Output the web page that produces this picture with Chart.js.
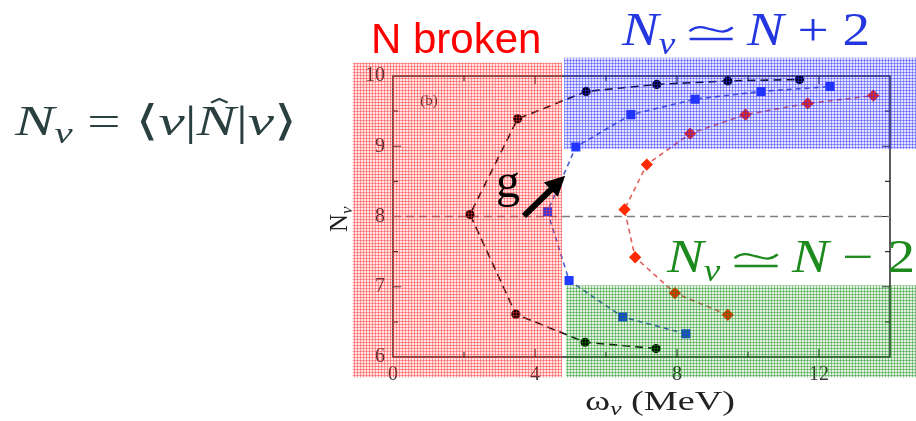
<!DOCTYPE html>
<html>
<head>
<meta charset="utf-8">
<script src="https://cdn.jsdelivr.net/npm/chart.js@4"></script>
<style>
  html, body { margin: 0; padding: 0; background: #fff; }
  canvas { display: block; }
</style>
</head>
<body>
<canvas id="nuChart" width="916" height="421"></canvas>
<script>
// excitation energy (MeV) and particle number of each state, in path order
const blackX = [7.41, 5.41, 3.46, 2.17, 3.51, 5.44, 7.43, 9.43, 11.45];
const blackY = [6.12, 6.21, 6.61, 8.03, 9.39, 9.78, 9.88, 9.93, 9.95];
const blueX = [8.25, 6.47, 4.96, 4.35, 5.15, 6.70, 8.51, 10.37, 12.31];
const blueY = [6.33, 6.57, 7.09, 8.07, 8.99, 9.45, 9.67, 9.78, 9.85];
const redX = [9.43, 7.94, 6.82, 6.52, 7.15, 8.37, 9.93, 11.68, 13.53];
const redY = [6.60, 6.91, 7.42, 8.10, 8.74, 9.18, 9.45, 9.61, 9.72];
// reference line N = 8
const refX = [0, 14];
const refY = [8, 8];
const xTicks = [0, 4, 8, 12];
const yTicks = [6, 7, 8, 9, 10];

const SERIF = "'Liberation Serif', 'DejaVu Serif', 'DejaVu Sans', serif";
const pts = (xs, ys) => xs.map((x, i) => ({ x: x, y: ys[i] }));

// shaded regions, in axis units: [x0, x1, y0, y1]
const regions = [
  { box: [-1.13, 4.76, 5.71, 10.19], rgb: [255, 40, 40] },
  { box: [4.82, 14.75, 8.96, 10.26], rgb: [40, 40, 255] },
  { box: [4.87, 14.75, 5.71, 7.02], rgb: [20, 140, 20] }
];

function hatch(ctx, rgb) {
  const c = document.createElement('canvas');
  c.width = 3; c.height = 3;
  const g = c.getContext('2d');
  g.fillStyle = `rgba(${rgb[0]},${rgb[1]},${rgb[2]},0.12)`;
  g.fillRect(0, 0, 3, 3);
  g.fillStyle = `rgba(${rgb[0]},${rgb[1]},${rgb[2]},0.42)`;
  g.fillRect(0, 0, 3, 1);
  g.fillRect(0, 0, 1, 3);
  return ctx.createPattern(c, 'repeat');
}

// draw a run of math text; parts are [text, kind]:
// 'i' italic, 'r' roman, 's' italic subscript, 'h' italic with hat, 'sim' the ≃ relation
function drawMath(ctx, parts, x, base, size, color, width) {
  const fontOf = p => {
    if (p[1] === 's') return `italic ${Math.round(size * 0.68)}px ${SERIF}`;
    if (p[1] === 'r') return `${size}px ${SERIF}`;
    return `italic ${size}px ${SERIF}`;
  };
  let total = 0;
  const ws = parts.map(p => {
    let w;
    if (p[1] === 'sim') w = size * 1.3;
    else { ctx.font = fontOf(p); w = ctx.measureText(p[0]).width; }
    total += w;
    return w;
  });
  const sx = width ? width / total : 1;
  ctx.save();
  ctx.translate(x, base);
  ctx.scale(sx, 1);
  ctx.fillStyle = color;
  ctx.strokeStyle = color;
  ctx.textBaseline = 'alphabetic';
  ctx.textAlign = 'left';
  let cx = 0;
  parts.forEach((p, i) => {
    if (p[1] === 'sim') {
      const l = cx + size * 0.26, r = cx + ws[i] - size * 0.26, m = (l + r) / 2;
      const ty = -size * 0.34, a = size * 0.07;
      ctx.lineWidth = size * 0.05;
      ctx.beginPath();
      ctx.moveTo(l, ty + a * 0.6);
      ctx.bezierCurveTo(l + (m - l) * 0.4, ty - a * 1.6, m - (m - l) * 0.3, ty - a * 0.4, m, ty);
      ctx.bezierCurveTo(m + (r - m) * 0.3, ty + a * 0.4, r - (r - m) * 0.4, ty + a * 1.6, r, ty - a * 0.6);
      ctx.stroke();
      ctx.beginPath();
      ctx.moveTo(l, -size * 0.13);
      ctx.lineTo(r, -size * 0.13);
      ctx.stroke();
      cx += ws[i];
      return;
    }
    ctx.font = fontOf(p);
    const dy = p[1] === 's' ? size * 0.2 : 0;
    ctx.fillText(p[0], cx, dy);
    if (p[1] === 'h') {
      const mx = cx + ws[i] * 0.58, top = -size * 0.86;
      ctx.lineWidth = 2;
      ctx.beginPath();
      ctx.moveTo(mx - size * 0.14, top + size * 0.09);
      ctx.lineTo(mx, top);
      ctx.lineTo(mx + size * 0.14, top + size * 0.09);
      ctx.stroke();
    }
    cx += ws[i];
  });
  ctx.restore();
}

const decor = {
  id: 'decor',
  beforeDatasetsDraw(chart) {
    const { ctx, chartArea: a, scales: { x, y } } = chart;
    ctx.save();
    ctx.strokeStyle = '#333';
    ctx.lineWidth = 1.6;
    ctx.strokeRect(a.left, a.top, a.right - a.left, a.bottom - a.top);
    ctx.lineWidth = 1.2;
    ctx.beginPath();
    for (let v = 2; v < 14; v += 2) {
      const px = x.getPixelForValue(v), len = v % 4 === 0 ? 8 : 5;
      ctx.moveTo(px, a.bottom); ctx.lineTo(px, a.bottom - len);
      ctx.moveTo(px, a.top); ctx.lineTo(px, a.top + len);
    }
    for (let v = 6.5; v < 10; v += 0.5) {
      const py = y.getPixelForValue(v), len = v % 1 === 0 ? 8 : 5;
      ctx.moveTo(a.left, py); ctx.lineTo(a.left + len, py);
      ctx.moveTo(a.right, py); ctx.lineTo(a.right - len, py);
    }
    ctx.stroke();
    ctx.restore();
  },
  afterDatasetsDraw(chart) {
    const { ctx, scales: { x, y } } = chart;
    ctx.save();
    // panel label
    ctx.fillStyle = '#333';
    ctx.font = `15px ${SERIF}`;
    ctx.textBaseline = 'middle';
    ctx.fillText('(b)', x.getPixelForValue(0.77), y.getPixelForValue(9.65));
    // axis titles
    const ax = chart.chartArea;
    drawMath(ctx, [['ω', 'r'], ['ν', 's'], [' (MeV)', 'r']], 585, 410, 27, '#222', 150);
    ctx.translate(ax.left - 46, 232);
    ctx.rotate(-Math.PI / 2);
    drawMath(ctx, [['N', 'r'], ['ν', 's']], 0, 0, 25, '#222', 0);
    ctx.setTransform(1, 0, 0, 1, 0, 0);
    // hatched bands
    regions.forEach(r => {
      const x0 = x.getPixelForValue(r.box[0]), x1 = x.getPixelForValue(r.box[1]);
      const y0 = y.getPixelForValue(r.box[3]), y1 = y.getPixelForValue(r.box[2]);
      ctx.fillStyle = hatch(ctx, r.rgb);
      ctx.fillRect(x0, y0, x1 - x0, y1 - y0);
    });
    ctx.restore();
  },
  afterDraw(chart) {
    const { ctx, scales: { x, y } } = chart;
    ctx.save();
    // coupling arrow
    const sx = x.getPixelForValue(3.69), sy = y.getPixelForValue(8.01);
    const tx = x.getPixelForValue(4.85), ty = y.getPixelForValue(8.58);
    const ang = Math.atan2(ty - sy, tx - sx);
    ctx.strokeStyle = '#000';
    ctx.fillStyle = '#000';
    ctx.lineWidth = 6;
    ctx.beginPath();
    ctx.moveTo(sx, sy);
    ctx.lineTo(tx - 14 * Math.cos(ang), ty - 14 * Math.sin(ang));
    ctx.stroke();
    ctx.beginPath();
    ctx.moveTo(tx, ty);
    ctx.lineTo(tx - 20 * Math.cos(ang) + 10 * Math.sin(ang), ty - 20 * Math.sin(ang) - 10 * Math.cos(ang));
    ctx.lineTo(tx - 20 * Math.cos(ang) - 10 * Math.sin(ang), ty - 20 * Math.sin(ang) + 10 * Math.cos(ang));
    ctx.closePath();
    ctx.fill();
    ctx.font = `48px ${SERIF}`;
    ctx.fillText('g', x.getPixelForValue(2.9), y.getPixelForValue(8.28));

    // captions around the panel
    ctx.fillStyle = '#ff0000';
    ctx.font = "42px 'Liberation Sans', Arial, sans-serif";
    ctx.fillText('N broken', 371, 53);
    drawMath(ctx, [['N', 'i'], ['ν', 's'], ['', 'sim'], ['N', 'i'], [' + 2', 'r']], 622, 45, 46, '#2436e0', 248);
    drawMath(ctx, [['N', 'i'], ['ν', 's'], ['', 'sim'], ['N', 'i'], [' − 2', 'r']], 667, 272, 46, '#1c8a1c', 248);
    drawMath(ctx, [['N', 'i'], ['ν', 's'], [' = ', 'r'], ['⟨', 'r'], ['ν', 'i'], ['|', 'r'],
      ['N', 'h'], ['|', 'r'], ['ν', 'i'], ['⟩', 'r']], 15, 135, 42, '#2a4040', 282);
    ctx.restore();
  }
};

new Chart(document.getElementById('nuChart'), {
  type: 'scatter',
  data: {
    datasets: [
      {
        data: pts(blackX, blackY), showLine: true,
        borderColor: '#111', borderWidth: 1.6, borderDash: [8, 5],
        pointStyle: 'circle', pointRadius: 3.8, pointBackgroundColor: '#000', pointBorderColor: '#000'
      },
      {
        data: pts(blueX, blueY), showLine: true,
        borderColor: '#4a5fcf', borderWidth: 1.6, borderDash: [5, 4],
        pointStyle: 'rect', pointRadius: 5.3, pointBackgroundColor: '#1f3cff', pointBorderColor: '#1f3cff'
      },
      {
        data: pts(redX, redY), showLine: true,
        borderColor: '#e06060', borderWidth: 1.6, borderDash: [5, 4],
        pointStyle: 'rectRot', pointRadius: 5, pointBackgroundColor: '#ff2a00', pointBorderColor: '#ff2a00'
      },
      {
        data: pts(refX, refY), showLine: true,
        borderColor: '#808080', borderWidth: 1.5, borderDash: [8, 5], pointRadius: 0
      }
    ]
  },
  options: {
    responsive: false,
    animation: false,
    devicePixelRatio: 1,
    layout: { padding: { left: 333, right: 26, top: 76, bottom: 0 } },
    plugins: { legend: { display: false }, tooltip: { enabled: false } },
    scales: {
      x: {
        type: 'linear', min: 0, max: 14,
        afterBuildTicks: s => { s.ticks = xTicks.map(v => ({ value: v })); },
        afterFit: s => { s.height = 64; },
        grid: { display: false, drawTicks: false },
        border: { display: false },
        ticks: { padding: 6, color: '#333', font: { family: SERIF, size: 20 } }
      },
      y: {
        type: 'linear', min: 6, max: 10,
        afterBuildTicks: s => { s.ticks = yTicks.map(v => ({ value: v })); },
        afterFit: s => { s.width = 60; },
        grid: { display: false, drawTicks: false },
        border: { display: false },
        ticks: { padding: 8, color: '#333', font: { family: SERIF, size: 20 } }
      }
    }
  },
  plugins: [decor]
});
</script>
</body>
</html>
